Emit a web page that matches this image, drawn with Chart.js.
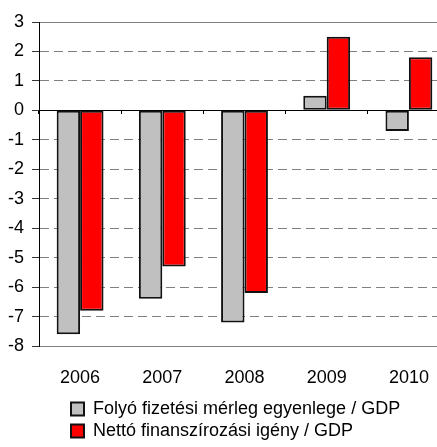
<!DOCTYPE html>
<html><head><meta charset="utf-8">
<script src="https://cdn.jsdelivr.net/npm/chart.js"></script>
<style>html,body{margin:0;padding:0;overflow:hidden;background:#fff}</style>
</head><body>
<canvas id="c" width="450" height="450"></canvas>
<script>
const categories = ['2006', '2007', '2008', '2009', '2010'];
const currentAccount = [-7.6, -6.4, -7.2, 0.5, -0.7];
const netBorrowing = [-6.8, -5.3, -6.2, 2.5, 1.8];
const seriesNames = ['Folyó fizetési mérleg egyenlege / GDP', 'Nettó finanszírozási igény / GDP'];
const yMin = -8, yMax = 3, yStep = 1;

const FONT = "'Liberation Sans', Arial, sans-serif";
Chart.defaults.font.family = FONT;
Chart.defaults.color = '#000';

const legendShift = {
  id: 'legendShift',
  afterLayout(chart) {
    const l = chart.legend;
    if (l) { l.left += 67; l.right += 67; }
  }
};

new Chart(document.getElementById('c'), {
  type: 'bar',
  data: {
    labels: categories,
    datasets: [
      { label: seriesNames[0], data: currentAccount, backgroundColor: '#c0c0c0', borderColor: '#111', borderWidth: 2, borderSkipped: false },
      { label: seriesNames[1], data: netBorrowing, backgroundColor: '#ff0000', borderColor: '#111', borderWidth: 2, borderSkipped: false }
    ]
  },
  options: {
    responsive: false,
    animation: false,
    layout: { padding: { top: 22, left: 0, right: 0, bottom: 0 } },
    datasets: { bar: { categoryPercentage: 0.57, barPercentage: 1.0 } },
    scales: {
      x: {
        position: 'bottom',
        grid: { display: false, drawTicks: false },
        border: { display: false },
        ticks: { font: { size: 18 }, padding: 21, color: '#000' },
        afterFit(s) { s.height = 50; }
      },
      x2: {
        type: 'category',
        labels: categories,
        position: { y: 0 },
        grid: { offset: true, drawOnChartArea: false, drawTicks: true, tickLength: 4, tickColor: '#000', tickWidth: 1 },
        border: { display: false },
        ticks: { display: false },
        afterFit(s) { s.height = 0; }
      },
      y: {
        min: yMin, max: yMax,
        ticks: { stepSize: yStep, font: { size: 18 }, padding: 8, color: '#000' },
        grid: {
          color: (ctx) => (ctx.tick && ctx.tick.value === 0) ? '#000' : '#808080',
          lineWidth: 1,
          tickLength: 7,
          tickColor: '#333'
        },
        border: {
          display: true, color: '#000', width: 1,
          dash: (ctx) => {
            if (!ctx.tick) return [];
            const v = ctx.tick.value;
            return (v === 0 || v === yMin || v === yMax) ? [] : [9, 5];
          }
        },
        afterFit(s) { s.width = 39; }
      }
    },
    plugins: {
      legend: {
        position: 'bottom',
        align: 'start',
        labels: { font: { size: 18 }, boxWidth: 13, boxHeight: 13, padding: 4, color: '#000' }
      },
      tooltip: { enabled: false }
    }
  },
  plugins: [legendShift]
});
</script>
</body></html>
